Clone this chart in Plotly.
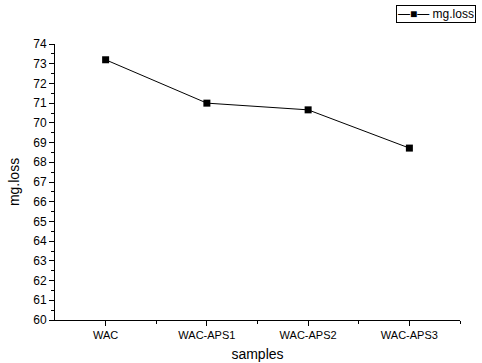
import plotly.graph_objects as go

categories = ["WAC", "WAC-APS1", "WAC-APS2", "WAC-APS3"]
mg_loss = [73.2, 71.0, 70.66, 68.72]
y_ticks = list(range(60, 75))
series_name = "mg.loss"

fig = go.Figure()
fig.add_trace(go.Scatter(
    x=list(range(len(categories))), y=mg_loss, mode="lines+markers", name=series_name,
    line=dict(color="black", width=1),
    marker=dict(symbol="square", size=7, color="black"),
    showlegend=False,
))

# legend box drawn as a bordered annotation (Origin-style compact legend)
fig.add_annotation(
    xref="paper", yref="paper", x=1.04, y=1.14, xanchor="right", yanchor="top",
    text="\u2014\u25a0\u2014 " + series_name, showarrow=False,
    font=dict(size=12, color="black"),
    bordercolor="black", borderwidth=1, borderpad=1, bgcolor="white",
)

fig.update_layout(
    width=482, height=363,
    margin=dict(l=55, r=22, t=44, b=43, autoexpand=False),
    paper_bgcolor="white", plot_bgcolor="white",
    font=dict(family="Liberation Sans, Arial, sans-serif", color="black", size=11),
    showlegend=False,
)
fig.update_xaxes(
    range=[-0.5, 3.5], tickvals=list(range(len(categories))), ticktext=categories,
    showgrid=False, zeroline=False, showline=True, linecolor="black", linewidth=1,
    ticks="outside", ticklen=5, tickcolor="black", automargin=False,
    minor=dict(tickvals=[0.5, 1.5, 2.5, 3.5], ticks="outside", ticklen=3, tickcolor="black"),
    title=dict(text="samples", font=dict(size=14), standoff=8),
    tickfont=dict(size=11),
)
fig.update_yaxes(
    range=[60, 74], tickvals=y_ticks,
    showgrid=False, zeroline=False, showline=True, linecolor="black", linewidth=1,
    ticks="outside", ticklen=5, tickcolor="black", automargin=False,
    minor=dict(dtick=0.5, tick0=60, ticks="outside", ticklen=3, tickcolor="black", showgrid=False),
    title=dict(text="mg.loss", font=dict(size=14), standoff=10),
    tickfont=dict(size=12),
)
fig.write_html("out.html")
